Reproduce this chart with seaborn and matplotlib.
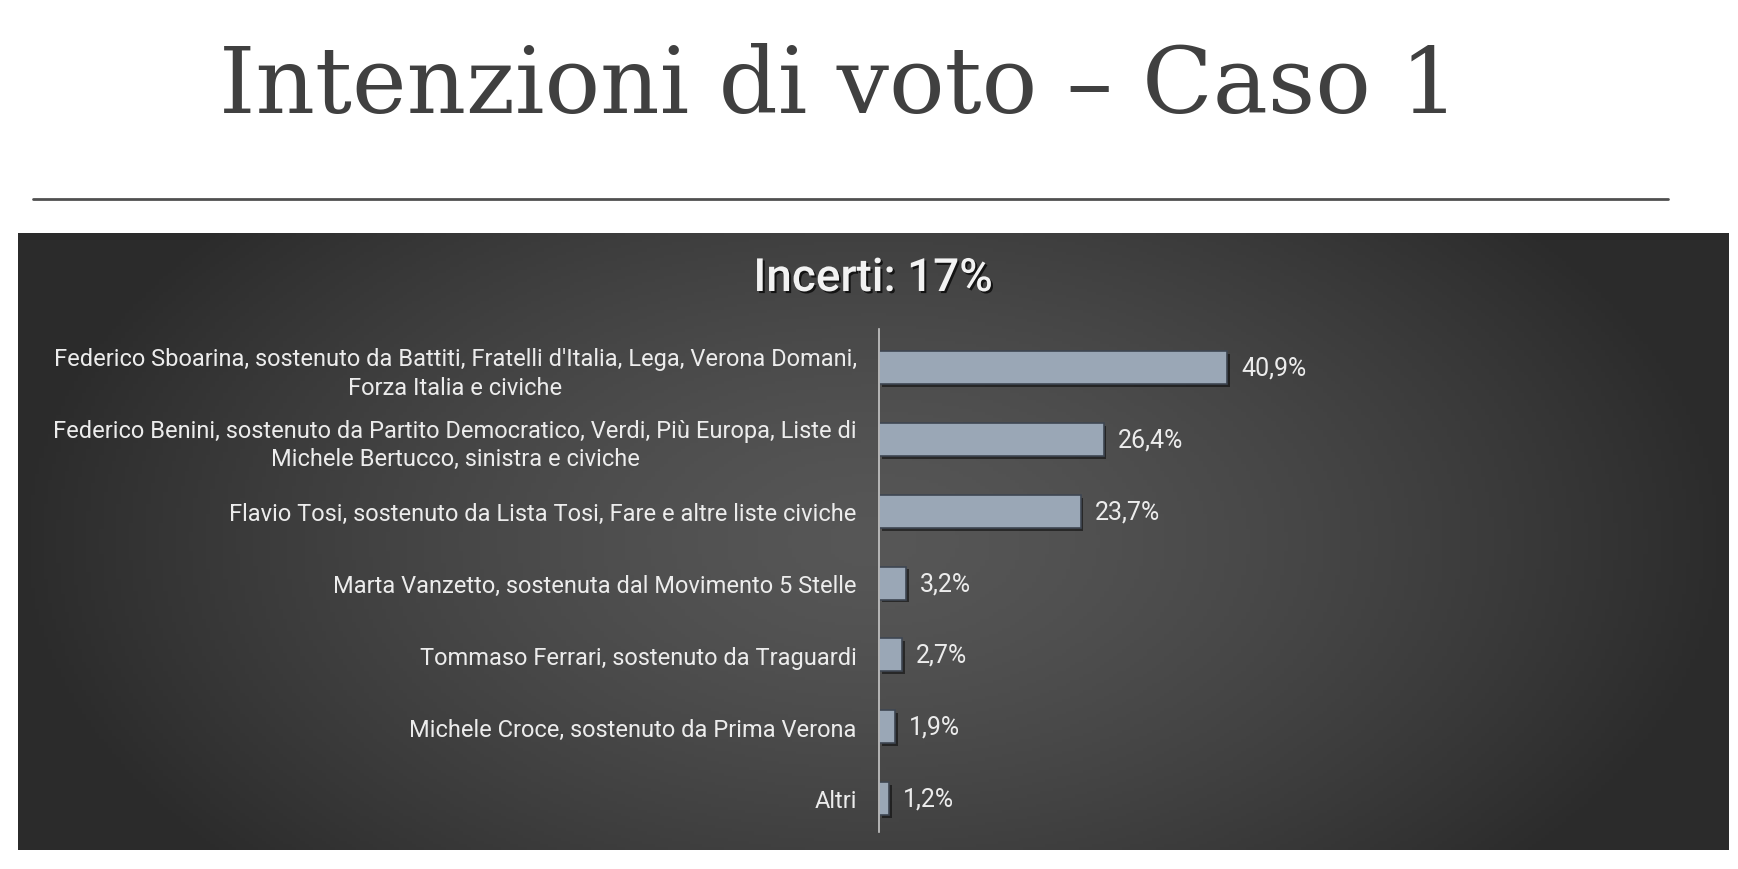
import numpy as np
import pandas as pd
import seaborn as sns
import matplotlib.pyplot as plt
import matplotlib.patheffects as pe

# data
candidates = [
    "Federico Sboarina, sostenuto da Battiti, Fratelli d'Italia, Lega, Verona Domani,\nForza Italia e civiche",
    "Federico Benini, sostenuto da Partito Democratico, Verdi, Più Europa, Liste di\nMichele Bertucco, sinistra e civiche",
    "Flavio Tosi, sostenuto da Lista Tosi, Fare e altre liste civiche",
    "Marta Vanzetto, sostenuta dal Movimento 5 Stelle",
    "Tommaso Ferrari, sostenuto da Traguardi",
    "Michele Croce, sostenuto da Prima Verona",
    "Altri",
]
shares = [40.9, 26.4, 23.7, 3.2, 2.7, 1.9, 1.2]
title = "Intenzioni di voto – Caso 1"
subtitle = "Incerti: 17%"

df = pd.DataFrame({"candidato": candidates, "quota": shares})

sns.set_theme(style="white")
plt.rcParams['font.family'] = ['Roboto', 'DejaVu Sans']

W, H = 1738, 870
fig = plt.figure(figsize=(W / 100, H / 100), dpi=100)

# title + rule
fig.text(839 / W, 1 - 88 / H, title, ha='center', va='center', fontsize=66.5,
         color='#404040', family=['DejaVu Serif'])
fig.add_artist(plt.Line2D([33 / W, 1668 / W], [1 - 200 / H, 1 - 200 / H],
                          color='#505050', lw=2))

# dark panel with soft radial gradient
px0, px1, py0, py1 = 18, 1729, 234, 851
bg = fig.add_axes([px0 / W, 1 - py1 / H, (px1 - px0) / W, (py1 - py0) / H])
gx, gy = np.meshgrid(np.linspace(-1, 1, 400), np.linspace(-1, 1, 200))
r = np.clip(np.sqrt((gx / 1.0) ** 2 + (gy / 1.6) ** 2), 0, 1)
shade = 0.34 - 0.17 * r ** 1.4
bg.imshow(np.dstack([shade] * 3), aspect='auto', extent=[0, 1, 0, 1])
bg.set_axis_off()

fig.text(873 / W, 1 - 279 / H, subtitle, ha='center', va='center', fontsize=33,
         color='#f2f2f2', fontweight='medium',
         path_effects=[pe.withSimplePatchShadow(offset=(1.5, -1.5), shadow_rgbFace='black', alpha=0.7)])

# bar chart
ax0, ay_top, ay_bot = 879, 330, 833
ax = fig.add_axes([ax0 / W, 1 - ay_bot / H, 851 / W, (ay_bot - ay_top) / H])
ax.patch.set_alpha(0)
sns.barplot(data=df, x="quota", y="candidato", orient='h', color='#95a6bb',
            width=0.46, edgecolor='#3e4652', linewidth=1.2, ax=ax)
for p in ax.patches:
    p.set_path_effects([pe.SimplePatchShadow(offset=(2, -2), shadow_rgbFace='black', alpha=0.5),
                        pe.Normal()])
ax.set_xlim(0, 100)
ax.set_ylim(6.47, -0.54)
ax.set_xlabel("")
ax.set_ylabel("")
ax.set_xticks([])
for s in ['top', 'right', 'bottom']:
    ax.spines[s].set_visible(False)
ax.spines['left'].set_color('#c8c8c8')
ax.spines['left'].set_linewidth(1.2)
ax.tick_params(axis='y', length=0, pad=16, labelsize=17, labelcolor='#ececec')
for t in ax.get_yticklabels():
    t.set_multialignment('center')
    t.set_linespacing(1.3)

ax.bar_label(ax.containers[0], labels=[f"{v:.1f}%".replace('.', ',') for v in shares],
             padding=10, fontsize=18, color='#ececec')

fig.savefig("out.png", dpi=100)
